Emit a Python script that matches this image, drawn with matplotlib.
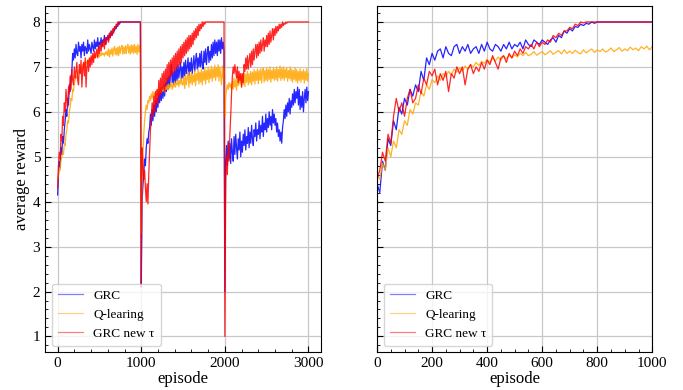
import matplotlib.pyplot as plt
import numpy             as np

ep_left = np.arange(0, 3001, 10)

grc_p1 = [4.15, 4.6, 4.9, 4.75, 5.2, 5.05, 5.45, 5.3, 5.6, 5.8,
          6.05, 5.9, 6.3, 6.15, 6.6, 6.45, 6.75, 6.9, 7.3, 7.15,
          7.4, 7.2, 7.5, 7.3, 7.25, 7.55, 7.35, 7.45, 7.2, 7.5,
          7.35, 7.55, 7.25, 7.45, 7.4, 7.3, 7.6, 7.35, 7.5, 7.4,
          7.3, 7.55, 7.45, 7.35, 7.6, 7.4, 7.55, 7.45, 7.65, 7.4,
          7.55, 7.5, 7.65, 7.45, 7.6, 7.55, 7.7, 7.5, 7.65, 7.6,
          7.7, 7.6, 7.75, 7.65, 7.8, 7.7, 7.75, 7.85, 7.8, 7.9,
          7.85, 7.95, 7.9, 8.0, 7.95, 8.0, 8.0, 8.0, 8.0, 8.0] + [8.0]*20
grc_p2 = [2.1, 4.0, 4.35, 4.6, 4.95, 4.8, 5.2, 5.4, 5.3, 5.55,
          5.65, 5.95, 5.7, 6.05, 5.8, 6.15, 5.9, 6.25, 6.0, 6.3,
          6.1, 6.45, 6.2, 6.5, 6.25, 6.55, 6.3, 6.6, 6.35, 6.65,
          6.45, 6.75, 6.5, 6.8, 6.55, 6.85, 7.05, 6.65, 6.9, 6.6,
          6.95, 6.65, 7.0, 6.7, 7.05, 6.75, 6.95, 7.1, 6.7, 7.0,
          6.75, 7.1, 6.8, 7.15, 6.85, 7.0, 7.2, 6.8, 7.1, 6.9,
          7.2, 6.85, 7.05, 7.25, 6.9, 7.15, 7.3, 6.95, 7.2, 7.0,
          7.3, 7.0, 7.35, 7.05, 6.95, 7.35, 7.1, 7.4, 7.05, 7.3,
          7.45, 7.1, 7.35, 7.15, 7.5, 7.2, 7.55, 7.25, 7.6, 7.3,
          7.55, 7.25, 7.6, 7.35, 7.6, 7.3, 7.65, 7.4, 7.55, 7.35]
grc_p3 = [2.0, 4.9, 5.25, 4.8, 5.35, 4.95, 5.3, 4.85, 5.4, 5.1,
          4.9, 5.45, 5.05, 5.5, 5.2, 4.95, 5.4, 5.15, 5.55, 5.0,
          5.35, 5.1, 5.5, 5.25, 5.6, 5.15, 5.45, 5.3, 5.65, 5.2,
          5.55, 5.3, 5.7, 5.4, 5.25, 5.6, 5.45, 5.75, 5.35, 5.6,
          5.5, 5.8, 5.4, 5.7, 5.55, 5.9, 5.45, 5.75, 5.6, 5.95,
          5.55, 5.85, 5.65, 6.0, 5.7, 5.9, 5.6, 6.05, 5.75, 5.95,
          5.7, 5.85, 5.55, 5.75, 5.45, 5.6, 5.35, 5.55, 5.3, 5.65,
          5.8, 6.05, 5.85, 6.15, 5.9, 6.2, 6.0, 6.3, 5.95, 6.25,
          6.1, 6.4, 6.15, 6.5, 6.2, 6.45, 6.3, 6.55, 6.15, 6.5,
          6.05, 6.35, 6.1, 6.45, 6.0, 6.3, 6.5, 6.2, 6.55, 6.25,
          6.45]

ql_p1 = [4.5, 4.6, 4.75, 4.7, 4.9, 5.0, 5.1, 5.05, 5.3, 5.25,
         5.5, 5.6, 5.8, 5.75, 6.0, 6.1, 6.3, 6.25, 6.5, 6.45,
         6.65, 6.7, 6.8, 6.75, 6.85, 6.9, 6.95, 6.88, 7.0, 6.95,
         7.05, 7.0, 7.1, 7.05, 7.12, 7.08, 7.15, 7.1, 7.18, 7.12,
         7.2, 7.15, 7.22, 7.18, 7.25, 7.2, 7.27, 7.22, 7.25, 7.3,
         7.22, 7.3, 7.25, 7.32, 7.27, 7.3, 7.24, 7.33, 7.28, 7.35,
         7.25, 7.4, 7.22, 7.38, 7.28, 7.42, 7.24, 7.4, 7.45, 7.27,
         7.42, 7.26, 7.44, 7.25, 7.46, 7.3, 7.43, 7.48, 7.28, 7.44,
         7.3, 7.47, 7.29, 7.45, 7.5, 7.31, 7.46, 7.28, 7.49, 7.32,
         7.48, 7.3, 7.5, 7.32, 7.46, 7.28, 7.5, 7.33, 7.47, 7.3]
ql_p2 = [3.3, 4.4, 5.0, 5.5, 5.8, 6.0, 6.15, 6.05, 6.25, 6.2,
         6.35, 6.25, 6.4, 6.3, 6.45, 6.35, 6.42, 6.3, 6.48, 6.38,
         6.5, 6.4, 6.45, 6.55, 6.42, 6.52, 6.46, 6.58, 6.44, 6.55,
         6.5, 6.6, 6.48, 6.62, 6.52, 6.58, 6.66, 6.5, 6.62, 6.55,
         6.68, 6.55, 6.65, 6.6, 6.72, 6.56, 6.7, 6.62, 6.75, 6.6,
         6.6, 6.78, 6.52, 6.82, 6.6, 6.76, 6.88, 6.55, 6.8, 6.64,
         6.9, 6.6, 6.82, 6.66, 6.92, 6.58, 6.85, 6.7, 6.95, 6.62,
         6.88, 6.66, 6.95, 6.6, 6.9, 6.7, 6.98, 6.62, 6.92, 6.72,
         7.0, 6.65, 6.94, 6.74, 7.02, 6.68, 6.96, 6.76, 7.04, 6.7,
         6.98, 6.78, 7.05, 6.68, 7.0, 6.8, 6.6, 7.02, 6.74, 6.96]
ql_p3 = [5.9, 6.35, 6.5, 6.6, 6.5, 6.65, 6.55, 6.62, 6.5, 6.68,
         6.5, 6.75, 6.55, 6.72, 6.48, 6.78, 6.58, 6.8, 6.62, 6.85,
         6.55, 6.82, 6.6, 6.86, 6.56, 6.84, 6.66, 6.9, 6.6, 6.85,
         6.64, 6.9, 6.6, 6.88, 6.68, 6.94, 6.62, 6.9, 6.7, 6.95,
         6.62, 6.92, 6.7, 6.96, 6.64, 6.9, 6.98, 6.66, 6.92, 6.7,
         6.98, 6.68, 6.94, 6.72, 7.0, 6.66, 6.92, 6.74, 6.98, 6.7,
         6.95, 6.72, 7.0, 6.68, 6.94, 6.76, 7.02, 6.7, 6.96, 6.74,
         7.0, 6.7, 6.95, 6.76, 6.98, 6.68, 6.92, 6.74, 7.0, 6.7,
         6.95, 6.66, 6.92, 6.72, 6.98, 6.68, 6.94, 6.64, 6.9, 6.7,
         6.96, 6.66, 6.9, 6.72, 6.94, 6.64, 6.9, 6.7, 6.96, 6.68,
         6.85]

new_p1 = [4.3, 4.8, 5.1, 4.95, 5.5, 5.35, 5.9, 5.7, 6.2, 6.0,
          6.5, 6.25, 6.1, 6.55, 6.4, 6.8, 6.5, 6.95, 6.7, 6.6,
          7.0, 6.75, 6.9, 7.1, 6.7, 6.6, 7.05, 6.85, 7.15, 6.55,
          6.95, 7.1, 6.8, 7.2, 6.55, 7.0, 7.15, 6.9, 7.2, 7.0,
          7.25, 7.05, 7.3, 7.1, 7.35, 7.2, 7.3, 7.4, 7.2, 7.45,
          7.3, 7.5, 7.35, 7.55, 7.45, 7.6, 7.4, 7.65, 7.5, 7.6,
          7.7, 7.55, 7.75, 7.65, 7.8, 7.7, 7.85, 7.75, 7.9, 7.85,
          7.95, 7.9, 8.0, 7.95, 8.0, 8.0, 8.0, 8.0, 8.0, 8.0] + [8.0]*20
new_p2 = [2.1, 5.2, 4.9, 4.5, 4.7, 4.3, 4.0, 4.4, 3.95, 4.6,
          5.1, 5.6, 5.85, 6.2, 5.9, 6.35, 6.0, 6.45, 6.15, 6.5,
          6.2, 6.7, 6.35, 6.75, 6.4, 6.85, 6.5, 6.9, 6.45, 6.95,
          6.6, 7.05, 6.7, 7.1, 6.75, 7.15, 6.8, 7.2, 6.85, 7.25,
          6.9, 7.3, 6.95, 7.35, 7.0, 7.4, 7.05, 7.45, 7.1, 7.5,
          7.2, 7.55, 7.25, 7.6, 7.3, 7.65, 7.35, 7.7, 7.4, 7.7,
          7.45, 7.75, 7.5, 7.8, 7.6, 7.85, 7.65, 7.9, 7.7, 7.95,
          7.8, 7.95, 7.85, 8.0, 7.9, 8.0, 7.95, 8.0, 8.0, 8.0] + [8.0]*20
new_p3 = [1.0, 4.5, 5.0, 4.6, 5.3, 4.9, 5.5, 5.9, 6.4, 6.8,
          7.0, 6.85, 7.05, 6.9, 6.75, 7.0, 6.65, 6.9, 6.7, 6.85,
          6.55, 6.85, 6.65, 7.05, 6.9, 7.2, 6.95, 7.25, 6.95, 7.15,
          7.3, 7.0, 7.35, 7.05, 7.4, 7.15, 7.35, 7.5, 7.2, 7.5,
          7.25, 7.55, 7.3, 7.6, 7.35, 7.5, 7.65, 7.35, 7.6, 7.45,
          7.7, 7.45, 7.75, 7.5, 7.8, 7.55, 7.7, 7.85, 7.6, 7.85,
          7.7, 7.9, 7.75, 7.9, 7.8, 7.95, 7.85, 7.95, 7.88, 8.0,
          7.92, 7.97, 7.95, 8.0, 7.97, 8.0, 8.0, 8.0, 8.0, 8.0] + [8.0]*21

grc_left = grc_p1 + grc_p2 + grc_p3
ql_left  = ql_p1 + ql_p2 + ql_p3
new_left = new_p1 + new_p2 + new_p3

### right panel, sampled every 10 episodes
ep_right = np.arange(0, 1001, 10)

grc_right = [4.4, 4.2, 4.9, 4.7, 5.4, 5.25, 5.8, 5.6, 6.1, 5.95,
             6.3, 6.15, 6.5, 6.35, 6.6, 6.45, 6.9, 6.7, 7.2, 7.05,
             7.3, 7.15, 7.35, 7.4, 7.2, 7.45, 7.3, 7.25, 7.45, 7.5,
             7.3, 7.45, 7.35, 7.5, 7.3, 7.4, 7.45, 7.3, 7.5, 7.35,
             7.55, 7.4, 7.35, 7.5, 7.45, 7.35, 7.5, 7.4, 7.55, 7.4,
             7.5, 7.45, 7.55, 7.4, 7.6, 7.5, 7.45, 7.6, 7.55, 7.5,
             7.6, 7.55, 7.5, 7.6, 7.65, 7.55, 7.7, 7.65, 7.8, 7.75,
             7.85, 7.8, 7.9, 7.88, 7.95, 7.92, 7.97, 7.95, 8.0, 7.97,
             8.0, 8.0, 8.0] + [8.0]*18
ql_right = [4.6, 4.5, 4.85, 4.7, 5.2, 5.0, 5.35, 5.2, 5.6, 5.5,
            5.8, 5.7, 6.05, 5.95, 6.2, 6.15, 6.45, 6.35, 6.6, 6.5,
            6.72, 6.65, 6.8, 6.7, 6.85, 6.78, 6.9, 6.82, 6.95, 6.88,
            6.98, 6.9, 7.02, 6.95, 7.05, 7.0, 7.1, 7.03, 7.12, 7.08,
            7.17, 7.1, 7.2, 7.13, 7.22, 7.15, 7.24, 7.18, 7.26, 7.2,
            7.27, 7.22, 7.3, 7.25, 7.32, 7.25, 7.28, 7.34, 7.26, 7.3,
            7.34, 7.27, 7.31, 7.36, 7.28, 7.33, 7.36, 7.29, 7.38, 7.3,
            7.35, 7.3, 7.37, 7.32, 7.29, 7.38, 7.31, 7.36, 7.4, 7.32,
            7.38, 7.34, 7.4, 7.33, 7.36, 7.42, 7.34, 7.38, 7.43, 7.35,
            7.4, 7.36, 7.44, 7.38, 7.42, 7.36, 7.45, 7.4, 7.46, 7.38,
            7.45]
new_right = [4.5, 4.7, 5.1, 4.9, 5.5, 5.3, 5.9, 6.3, 6.0, 6.2,
             5.9, 6.3, 6.5, 6.2, 6.3, 6.6, 6.4, 6.75, 6.6, 6.9,
             6.8, 6.95, 6.6, 6.85, 6.7, 6.9, 6.45, 6.85, 6.75, 7.0,
             6.85, 7.0, 6.6, 6.95, 7.05, 6.85, 7.0, 6.9, 7.1, 6.95,
             7.15, 7.05, 7.25, 7.1, 6.95, 7.2, 7.25, 7.1, 7.3, 7.2,
             7.35, 7.25, 7.4, 7.3, 7.45, 7.4, 7.5, 7.4, 7.55, 7.45,
             7.55, 7.5, 7.6, 7.55, 7.7, 7.65, 7.75, 7.7, 7.8, 7.8,
             7.88, 7.85, 7.95, 7.92, 8.0, 7.98, 8.0] + [8.0]*24

labels = ["GRC", "Q-learing", "GRC new \u03c4"]
colors = ["blue", "orange", "red"]

### style
plt.rcParams['font.family'] = ['Liberation Serif', 'DejaVu Serif']

fig, (ax1, ax2) = plt.subplots(1, 2, sharey=True, figsize=(6.83, 3.9), dpi=100)
ax1.set_position([0.066, 0.097, 0.404, 0.887])
ax2.set_position([0.552, 0.097, 0.403, 0.887])

for y, lab, c in zip([grc_left, ql_left, new_left], labels, colors):
    ax1.plot(ep_left, y, color=c, lw=0.9, alpha=0.85, label=lab)
for y, lab, c in zip([grc_right, ql_right, new_right], labels, colors):
    ax2.plot(ep_right, y, color=c, lw=0.9, alpha=0.85, label=lab)

ax1.set_xlim(-150, 3150)
ax2.set_xlim(0, 1000)
ax1.set_ylim(0.65, 8.35)
ax1.set_xticks([0, 1000, 2000, 3000])
ax1.set_xticks(np.arange(0, 3001, 200), minor=True)
ax2.set_xticks(np.arange(0, 1001, 200))
ax2.set_xticks(np.arange(0, 1001, 50), minor=True)
ax1.set_yticks(range(1, 9))
ax1.set_yticks(np.arange(0.8, 8.4, 0.2), minor=True)

for ax in (ax1, ax2):
    ax.grid(True, which='major', color='#c8c8c8', lw=0.9)
    ax.set_axisbelow(True)
    ax.tick_params(which='both', direction='in', top=False, right=False, labelsize=11)
    ax.tick_params(which='major', length=4)
    ax.tick_params(which='minor', length=2.2)
    ax.set_xlabel("episode", fontsize=12, labelpad=1)
    leg = ax.legend(loc='lower left', fontsize=9.5, labelspacing=0.5,
                    handlelength=1.9, handletextpad=0.8, borderpad=0.45,
                    fancybox=True, framealpha=0.8)
    for h in leg.get_lines():
        h.set_alpha(0.5)
        h.set_linewidth(0.9)

ax1.set_ylabel("average reward", fontsize=12, labelpad=2)

plt.savefig("out.png", dpi=100)
